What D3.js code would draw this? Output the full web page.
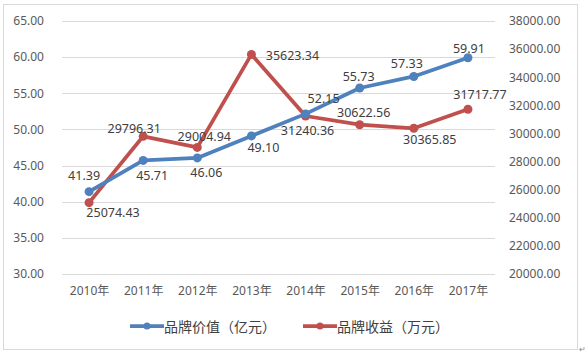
<!DOCTYPE html>
<html><head><meta charset="utf-8">
<script src="https://cdn.jsdelivr.net/npm/d3@7"></script>
<style>body{margin:0;background:#fff}svg{display:block}</style>
</head><body><svg id="c" width="585" height="359"></svg>
<script>
const categories = ["2010年","2011年","2012年","2013年","2014年","2015年","2016年","2017年"];
const brandValue = [41.39, 45.71, 46.06, 49.10, 52.15, 55.73, 57.33, 59.91];
const brandIncome = [25074.43, 29796.31, 29004.94, 35623.34, 31240.36, 30622.56, 30365.85, 31717.77];
const leftTicks = [30, 35, 40, 45, 50, 55, 60, 65];
const rightTicks = [20000, 22000, 24000, 26000, 28000, 30000, 32000, 34000, 36000, 38000];
const seriesNames = ["品牌价值（亿元）", "品牌收益（万元）"];
// label offsets (styling)
const blueOff = [[-5,-16],[9,15],[9,15],[12,12],[18,-15],[-1,-12],[-7,-13],[1,-9]];
const redOff = [[24,10],[-9,-8],[7,-11],[41,1],[2,14],[4,-12],[16,11],[12,-15]];

const svg = d3.select("#c");
const L = 62, R = 495, T = 21, B = 274;
const font = "'Noto Sans','Noto Sans CJK SC',sans-serif";
const x = d3.scalePoint().domain(categories).range([L, R]).padding(0.5);
const yL = d3.scaleLinear().domain([30, 65]).range([B, T]);
const yR = d3.scaleLinear().domain([20000, 38000]).range([B, T]);
const blue = "#4F81BD", red = "#C0504D";

svg.append("rect").attr("x", 3.5).attr("y", 4.5).attr("width", 574).attr("height", 345)
  .attr("fill", "#fff").attr("stroke", "#d9d9d9");

// gridlines
svg.append("g").selectAll("line").data(leftTicks).join("line")
  .attr("x1", L).attr("x2", R).attr("y1", d => Math.round(yL(d)) + 0.5).attr("y2", d => Math.round(yL(d)) + 0.5)
  .attr("stroke", "#d9d9d9");

// left axis
const gl = svg.append("g").attr("transform", `translate(${L - 18},0)`)
  .call(d3.axisLeft(yL).tickValues(leftTicks).tickFormat(d3.format(".2f")).tickSize(0).tickPadding(0));
gl.select(".domain").remove();
gl.selectAll("text").attr("font-family", font).attr("font-size", 12).attr("fill", "#595959");

// right axis
const gr = svg.append("g").attr("transform", `translate(509,0)`)
  .call(d3.axisRight(yR).tickValues(rightTicks).tickFormat(d3.format(".2f")).tickSize(0).tickPadding(0));
gr.select(".domain").remove();
gr.selectAll("text").attr("font-family", font).attr("font-size", 12).attr("fill", "#595959");

// x axis
const gx = svg.append("g").attr("transform", `translate(0,${B + 12})`)
  .call(d3.axisBottom(x).tickSize(0).tickPadding(0));
gx.select(".domain").remove();
gx.selectAll("text").attr("font-family", font).attr("font-size", 12).attr("fill", "#595959");

function drawSeries(vals, ys, color) {
  const g = svg.append("g");
  g.append("path").datum(vals)
    .attr("d", d3.line().x((d, i) => x(categories[i])).y(d => ys(d)))
    .attr("fill", "none").attr("stroke", color).attr("stroke-width", 3.75).attr("stroke-linejoin", "round");
  g.selectAll("circle").data(vals).join("circle")
    .attr("cx", (d, i) => x(categories[i])).attr("cy", d => ys(d)).attr("r", 4.5).attr("fill", color);
  return g;
}
function drawLabels(vals, ys, offs) {
  svg.append("g").selectAll("text").data(vals).join("text")
    .attr("x", (d, i) => x(categories[i]) + offs[i][0])
    .attr("y", (d, i) => ys(d) + offs[i][1])
    .attr("text-anchor", "middle").attr("dominant-baseline", "central")
    .attr("font-family", font).attr("font-size", 12.5).attr("fill", "#404040")
    .text(d => d.toFixed(2));
}
drawSeries(brandIncome, yR, red);
drawSeries(brandValue, yL, blue);
drawLabels(brandValue, yL, blueOff);
drawLabels(brandIncome, yR, redOff);

// legend
const leg = [{x: 130, c: blue, t: seriesNames[0]}, {x: 303, c: red, t: seriesNames[1]}];
const lg = svg.append("g");
leg.forEach(l => {
  lg.append("line").attr("x1", l.x).attr("x2", l.x + 34).attr("y1", 326).attr("y2", 326)
    .attr("stroke", l.c).attr("stroke-width", 3.75);
  lg.append("circle").attr("cx", l.x + 17).attr("cy", 326).attr("r", 3.5).attr("fill", l.c);
  lg.append("text").attr("x", l.x + 34).attr("y", 326).attr("dominant-baseline", "central")
    .attr("font-family", "'Noto Sans CJK SC',sans-serif").attr("font-size", 14).attr("fill", "#404040").text(l.t);
});
svg.append("text").attr("x", 579).attr("y", 352).attr("font-family", font).attr("font-size", 8)
  .attr("fill", "#888").text("↵");
</script></body></html>
